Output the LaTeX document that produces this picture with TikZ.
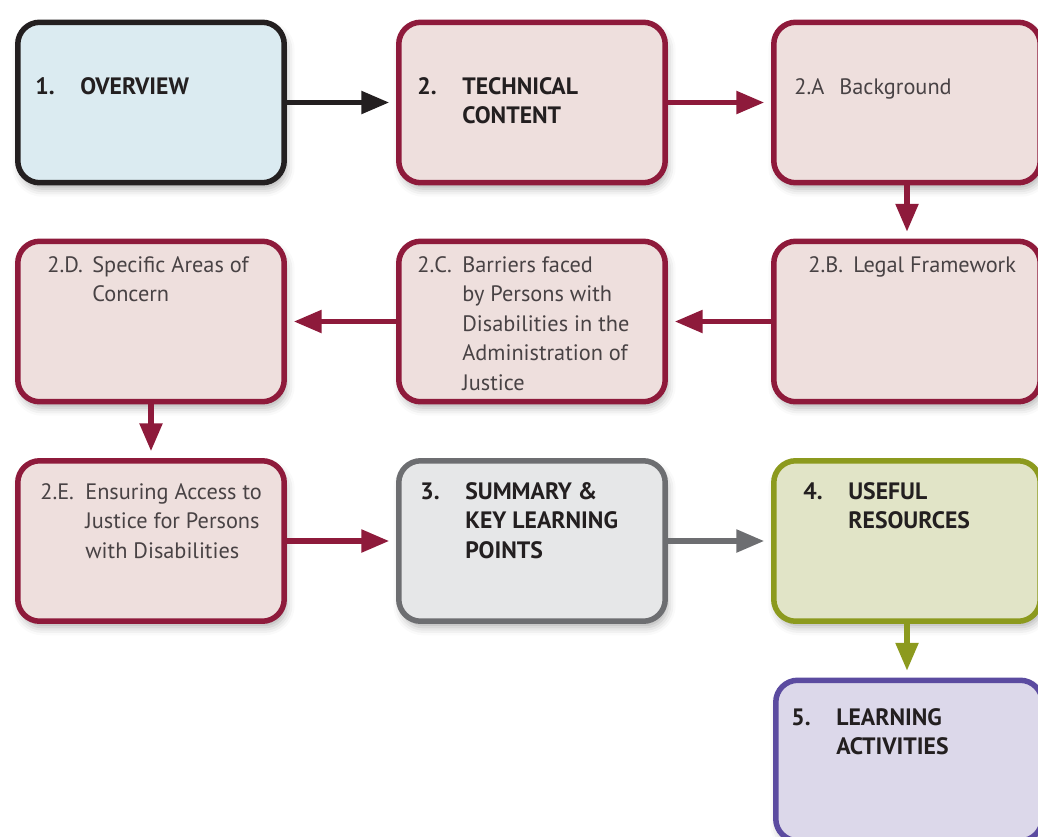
\documentclass[tikz,border=0pt]{standalone}
\usepackage{fontspec}
\setmainfont{PT Sans}
\usetikzlibrary{arrows.meta,shadows.blur}

\definecolor{ink}{HTML}{231F20}
\definecolor{softink}{HTML}{484244}
\definecolor{bluefill}{HTML}{DBEBF1}
\definecolor{rosefill}{HTML}{EEDFDD}
\definecolor{maroon}{HTML}{8E1A3B}
\definecolor{greyfill}{HTML}{E6E7E8}
\definecolor{greyline}{HTML}{6D6E71}
\definecolor{olivefill}{HTML}{E1E4C7}
\definecolor{oliveline}{HTML}{8C9A1E}
\definecolor{lilacfill}{HTML}{DCD8EA}
\definecolor{lilacline}{HTML}{5B4BA0}

\newcommand{\entry}[2]{\makebox[0.9cm][l]{#1}\parbox[t]{4.4cm}{#2}}

\begin{document}
\begin{tikzpicture}[x=0.02cm,y=-0.02cm,
  box/.style={draw,line width=0.11cm,rounded corners=0.44cm,
    minimum width=5.33cm,minimum height=3.21cm,
    blur shadow={shadow xshift=0.05cm,shadow yshift=-0.12cm,
      shadow blur radius=0.16cm,shadow opacity=30}},
  rosebox/.style={box,fill=rosefill,draw=maroon},
  txt/.style={anchor=base west,inner sep=0pt,
    font=\fontsize{12.7}{16.8}\selectfont,text=softink},
  head/.style={txt,text=ink,font=\fontsize{13.5}{16.8}\selectfont\bfseries},
  link/.style={line width=0.11cm,shorten >=0.135cm,
    -{Triangle[length=0.56cm,width=0.44cm]}}]
\useasboundingbox (0,0) rectangle (1038,836);
\clip (0,0) rectangle (1038,836);

% boxes, row by row
\node[box,fill=bluefill,draw=ink] (ov) at (151,102.5) {};
\node[rosebox] (tc) at (532,102.5) {};
\node[rosebox] (bg) at (907,102.5) {};
\node[rosebox] (sa) at (151,321.5) {};
\node[rosebox] (bf) at (532,321.5) {};
\node[rosebox] (lf) at (907,321.5) {};
\node[rosebox] (ea) at (151,541) {};
\node[box,fill=greyfill,draw=greyline] (sk) at (532,541) {};
\node[box,fill=olivefill,draw=oliveline] (ur) at (907,541) {};
\node[box,fill=lilacfill,draw=lilacline] (la) at (909,760.5) {};

% texts
\node[head] (ov-t) at (35,94) {\entry{1.}{OVERVIEW}};
\node[head] (tc-t) at (417,94) {\entry{2.}{TECHNICAL\\CONTENT}};
\node[txt] (bg-t) at (794,94) {\entry{2.A}{Background}};
\node[txt] (sa-t) at (47,272) {\entry{2.D.}{Specific Areas of\\Concern}};
\node[txt] (bf-t) at (417,272) {\entry{2.C.}{Barriers faced\\by Persons with\\Disabilities in the\\Administration of\\Justice}};
\node[txt] (lf-t) at (808,272) {\entry{2.B.}{Legal Framework}};
\node[txt] (ea-t) at (40,499) {\entry{2.E.}{Ensuring Access to\\Justice for Persons\\with Disabilities}};
\node[head] (sk-t) at (420,499) {\entry{3.}{SUMMARY \&\\KEY LEARNING\\POINTS}};
\node[head] (ur-t) at (803,499) {\entry{4.}{USEFUL\\RESOURCES}};
\node[head] (la-t) at (791,725) {\entry{5.}{LEARNING\\ACTIVITIES}};

% connectors
\draw[link,ink] (ov.east) -- (tc.west);
\draw[link,maroon] (tc.east) -- (bg.west);
\draw[link,maroon] (bg.south) -- (lf.north);
\draw[link,maroon] (lf.west) -- (bf.east);
\draw[link,maroon] (bf.west) -- (sa.east);
\draw[link,maroon] (sa.south) -- (ea.north);
\draw[link,maroon] (ea.east) -- (sk.west);
\draw[link,greyline] (sk.east) -- (ur.west);
\draw[link,oliveline] (ur.south) -- (ur.south |- la.north);
\end{tikzpicture}
\end{document}
